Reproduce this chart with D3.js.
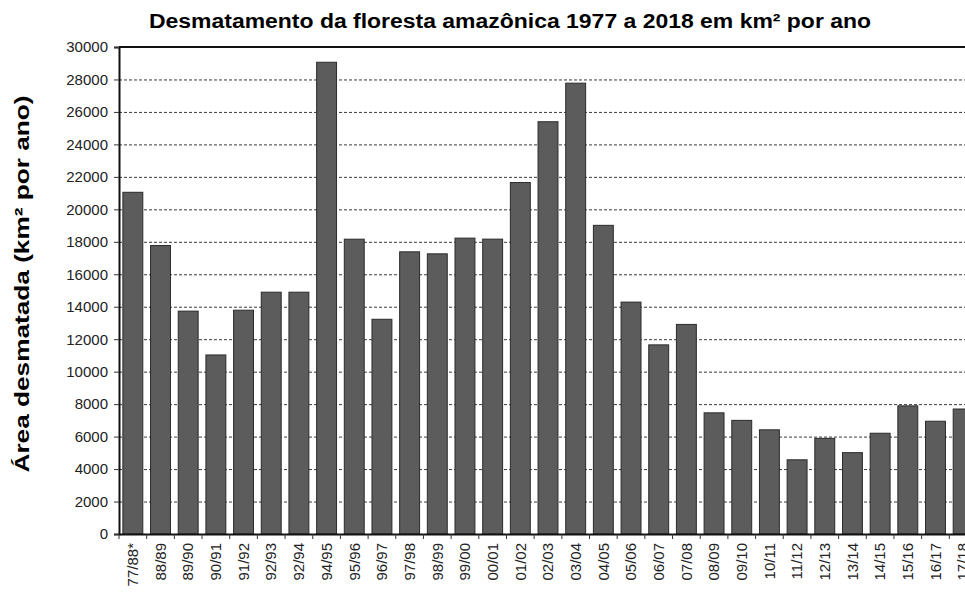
<!DOCTYPE html>
<html>
<head>
<meta charset="utf-8">
<script src="https://cdn.jsdelivr.net/npm/d3@7"></script>
<style>
  body { margin: 0; background: #fff; }
  svg { display: block; font-family: "Liberation Sans", Arial, sans-serif; }
  .grid line { stroke: #3a3a3a; stroke-dasharray: 3,2; stroke-width: 1; }
  .axis text { fill: #222; }
</style>
</head>
<body>
<svg class="chart"></svg>
<script>
// Periods (labels as printed, including the "92/94" typo of the original)
const periods = ['77/88*', '88/89', '89/90', '90/91', '91/92', '92/93', '92/94', '94/95',
  '95/96', '96/97', '97/98', '98/99', '99/00', '00/01', '01/02', '02/03', '03/04',
  '04/05', '05/06', '06/07', '07/08', '08/09', '09/10', '10/11', '11/12', '12/13',
  '13/14', '14/15', '15/16', '16/17', '17/18'];

// Deforested area in km² per year
const areas = [21050, 17770, 13730, 11030, 13786, 14896, 14896, 29059,
  18161, 13227, 17383, 17259, 18226, 18165, 21651, 25396, 27772,
  19014, 14286, 11651, 12911, 7464, 7000, 6418, 4571, 5891,
  5012, 6207, 7893, 6947, 7700];

const yTicks = [0, 2000, 4000, 6000, 8000, 10000, 12000, 14000, 16000, 18000,
  20000, 22000, 24000, 26000, 28000, 30000];

const width = 965;
const height = 601;
const margin = { top: 47, left: 119, bottom: 67 };
const plotRight = 977; // plot area runs past the cropped picture edge

const svg = d3.select('svg.chart')
  .attr('width', width)
  .attr('height', height);

const x = d3.scaleBand()
  .domain(periods)
  .range([margin.left, plotRight])
  .paddingInner(0.28)
  .paddingOuter(0.14);

const y = d3.scaleLinear()
  .domain([0, 30000])
  .range([height - margin.bottom, margin.top]);

//Dotted gridlines
svg.append('g')
  .classed('grid', true)
  .selectAll('line')
  .data(yTicks.filter(d => d > 0 && d < 30000))
  .enter()
  .append('line')
    .attr('x1', margin.left)
    .attr('x2', plotRight)
    .attr('y1', d => y(d) + 0.5)
    .attr('y2', d => y(d) + 0.5);

//Top border of plot area
svg.append('line')
  .attr('x1', margin.left)
  .attr('x2', plotRight)
  .attr('y1', y(30000))
  .attr('y2', y(30000))
  .attr('stroke', '#111')
  .attr('stroke-width', 2);

//Bars
svg.append('g')
  .selectAll('rect')
  .data(areas)
  .enter()
  .append('rect')
    .attr('x', (d, i) => x(periods[i]))
    .attr('y', d => y(d))
    .attr('width', x.bandwidth())
    .attr('height', d => y(0) - y(d))
    .attr('fill', '#5c5c5c')
    .attr('stroke', '#2b2b2b')
    .attr('stroke-width', 1);

//Y axis
const yAxis = svg.append('g')
  .classed('axis', true)
  .attr('transform', `translate(${margin.left},0)`)
  .call(d3.axisLeft(y).tickValues(yTicks).tickSize(5).tickPadding(6).tickFormat(d3.format('d')));
yAxis.select('.domain').attr('stroke', '#111').attr('stroke-width', 2);
yAxis.selectAll('.tick line').attr('stroke', '#333');
yAxis.selectAll('text').style('font-size', '15px');

//X axis
const xAxis = svg.append('g')
  .classed('axis', true)
  .attr('transform', `translate(0,${y(0)})`)
  .call(d3.axisBottom(x).tickSize(0).tickPadding(8));
xAxis.select('.domain').attr('stroke', '#111').attr('stroke-width', 2);
xAxis.selectAll('text')
  .style('font-size', '15px')
  .attr('text-anchor', 'end')
  .attr('dy', '0.35em')
  .attr('transform', 'rotate(-90)')
  .attr('x', -9)
  .attr('y', 0);

//Small ticks between categories
svg.append('g')
  .selectAll('line')
  .data(periods)
  .enter()
  .append('line')
    .attr('x1', d => x(d) - x.step() * x.paddingInner() / 2)
    .attr('x2', d => x(d) - x.step() * x.paddingInner() / 2)
    .attr('y1', y(0))
    .attr('y2', y(0) + 5)
    .attr('stroke', '#333');

//Chart title
svg.append('text')
  .attr('x', 510)
  .attr('y', 28)
  .attr('text-anchor', 'middle')
  .style('font-size', '20px')
  .style('font-weight', 'bold')
  .attr('textLength', 722)
  .attr('lengthAdjust', 'spacingAndGlyphs')
  .text('Desmatamento da floresta amazônica 1977 a 2018 em km² por ano');

//Y axis title
svg.append('text')
  .attr('transform', 'translate(29,284) rotate(-90)')
  .attr('text-anchor', 'middle')
  .style('font-size', '21px')
  .style('font-weight', 'bold')
  .attr('textLength', 377)
  .attr('lengthAdjust', 'spacingAndGlyphs')
  .text('Área desmatada (km² por ano)');
</script>
</body>
</html>
